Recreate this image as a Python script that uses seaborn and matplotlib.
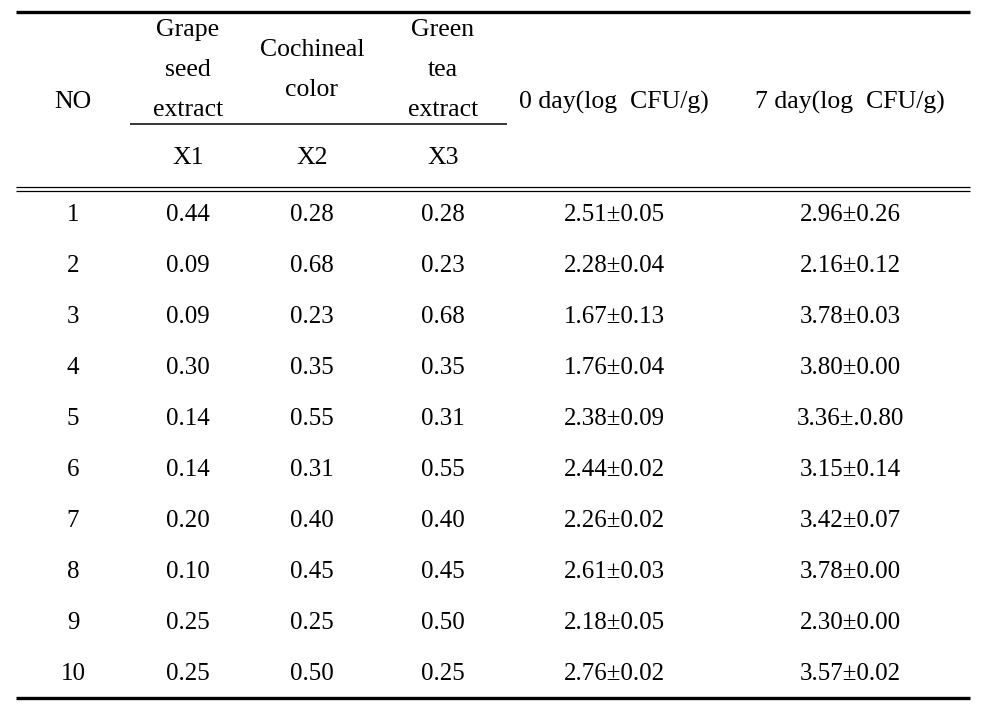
import numpy as np
import pandas as pd
import matplotlib
matplotlib.use("Agg")
import matplotlib.pyplot as plt
import seaborn as sns

# table data
run_no = [1, 2, 3, 4, 5, 6, 7, 8, 9, 10]
x1 = ["0.44", "0.09", "0.09", "0.30", "0.14", "0.14", "0.20", "0.10", "0.25", "0.25"]
x2 = ["0.28", "0.68", "0.23", "0.35", "0.55", "0.31", "0.40", "0.45", "0.25", "0.50"]
x3 = ["0.28", "0.23", "0.68", "0.35", "0.31", "0.55", "0.40", "0.45", "0.50", "0.25"]
day0 = ["2.51±0.05", "2.28±0.04", "1.67±0.13", "1.76±0.04", "2.38±0.09",
        "2.44±0.02", "2.26±0.02", "2.61±0.03", "2.18±0.05", "2.76±0.02"]
day7 = ["2.96±0.26", "2.16±0.12", "3.78±0.03", "3.80±0.00", "3.36±.0.80",
        "3.15±0.14", "3.42±0.07", "3.78±0.00", "2.30±0.00", "3.57±0.02"]

factor_names = ["Grape\nseed\nextract", "Cochineal\ncolor", "Green\ntea\nextract"]
factor_codes = ["X1", "X2", "X3"]
day_headers = ["0 day(log  CFU/g)", "7 day(log  CFU/g)"]

df = pd.DataFrame({"NO": run_no, "X1": x1, "X2": x2, "X3": x3,
                   "day0": day0, "day7": day7})

sns.set_theme(style="white")
plt.rcParams['font.family'] = ['Liberation Serif', 'DejaVu Serif']
plt.rcParams['text.color'] = 'black'

fig = plt.figure(figsize=(9.9, 7.21), dpi=100)
ax = fig.add_axes([0, 0, 1, 1])
ax.set_xlim(0, 990)
ax.set_ylim(721, 0)
ax.axis('off')

col_x = [73, 188, 312, 443, 614, 850]
body_fs = 18
head_fs = 18.5

# rules
ax.plot([16, 970], [12, 12], color='black', lw=2.4, solid_capstyle='butt')
ax.plot([130, 507], [124, 124], color='black', lw=1.1, solid_capstyle='butt')
ax.plot([16, 970], [187, 187], color='black', lw=0.9, solid_capstyle='butt')
ax.plot([16, 970], [191, 191], color='black', lw=0.9, solid_capstyle='butt')
ax.plot([16, 970], [698, 698], color='black', lw=2.4, solid_capstyle='butt')

# header
ax.text(col_x[0], 102, "NO", ha='center', va='center', fontsize=head_fs)
for i, name in enumerate(factor_names):
    ax.text(col_x[i + 1], 70, name, ha='center', va='center',
            fontsize=head_fs, linespacing=2.05)
    ax.text(col_x[i + 1], 158, factor_codes[i], ha='center', va='center',
            fontsize=head_fs)
for i, h in enumerate(day_headers):
    ax.text(col_x[4 + i], 102, h, ha='center', va='center', fontsize=head_fs)

# body
cols = ["NO", "X1", "X2", "X3", "day0", "day7"]
for r, row in df.iterrows():
    y = 215 + 51 * r
    for c, key in enumerate(cols):
        ax.text(col_x[c], y, str(row[key]), ha='center', va='center',
                fontsize=body_fs)

fig.savefig("out.png", dpi=100)
